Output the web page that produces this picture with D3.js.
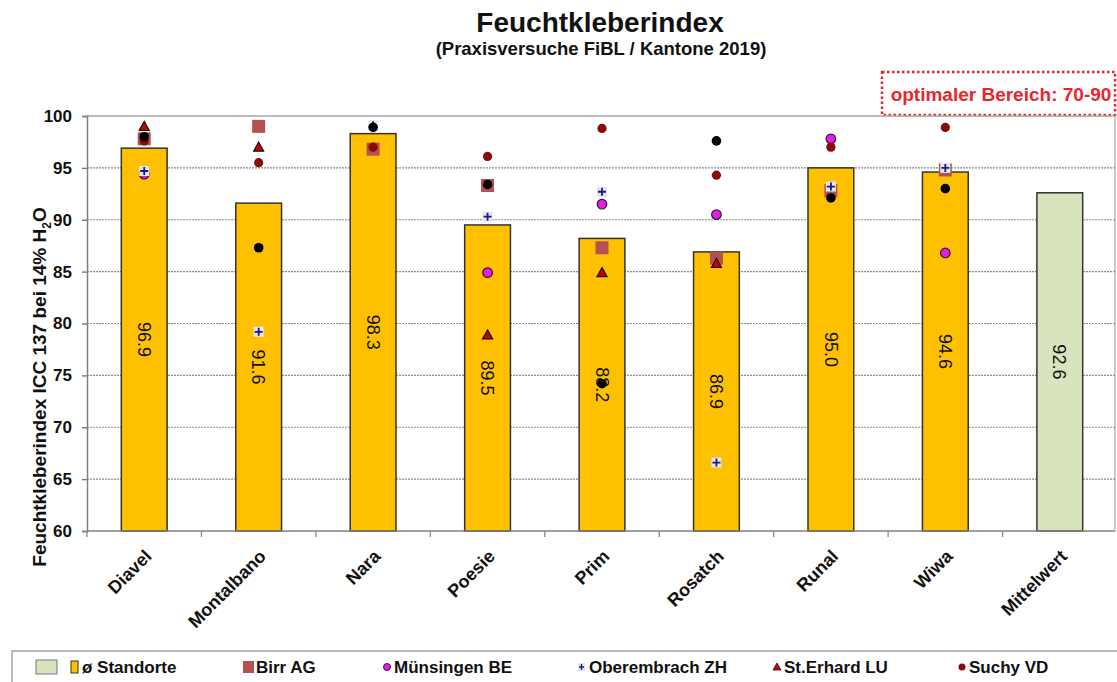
<!DOCTYPE html>
<html><head><meta charset="utf-8">
<script src="https://cdn.jsdelivr.net/npm/d3@7"></script>
<style>body{margin:0;background:#fff}svg{display:block;font-family:"Liberation Sans",Arial,sans-serif}</style>
</head><body><svg id="c" width="1117" height="682"></svg>
<script>
const categories = ["Diavel","Montalbano","Nara","Poesie","Prim","Rosatch","Runal","Wiwa","Mittelwert"];
const meanValues = [96.9, 91.6, 98.3, 89.5, 88.2, 86.9, 95.0, 94.6, 92.6];
const birrAG      = [97.8, 99.0, 96.8, 93.3, 87.3, 86.3, 92.8, 94.8, null];
const muensingen  = [94.4, null, null, 84.9, 91.5, 90.5, 97.8, 86.8, null];
const oberembrach = [94.7, 79.2, 99.1, 90.3, 92.7, 66.6, 93.2, 95.0, null];
const stErhard    = [99.0, 97.0, null, 78.9, 84.9, 85.8, null, null, null];
const suchy       = [97.6, 95.5, 97.0, 96.1, 98.8, 94.3, 97.0, 98.9, null];
const weitere     = [98.0, 87.3, 98.9, 93.4, 74.2, 97.6, 92.1, 93.0, null];
const yTicks = [60, 65, 70, 75, 80, 85, 90, 95, 100];

const svg = d3.select("#c");
const x = d3.scaleBand().domain(categories).range([87, 1117]).padding(0);
const y = d3.scaleLinear().domain([60, 100]).range([531, 116]);
const bw = x.bandwidth() * 0.40;
const cx = c => x(c) + x.bandwidth() / 2;

// Title
svg.append("text").attr("x", 600).attr("y", 32).attr("text-anchor", "middle")
  .attr("font-size", 28).attr("font-weight", "bold").attr("fill", "#111").text("Feuchtkleberindex");
svg.append("text").attr("x", 601).attr("y", 55).attr("text-anchor", "middle")
  .attr("font-size", 18.5).attr("font-weight", "bold").attr("fill", "#111").text("(Praxisversuche FiBL / Kantone 2019)");

// optimal box
svg.append("rect").attr("x", 882).attr("y", 72).attr("width", 233).attr("height", 43)
  .attr("fill", "#fff").attr("stroke", "#e8262c").attr("stroke-width", 2.5).attr("stroke-dasharray", "2.5,2.5");
svg.append("text").attr("x", 1001).attr("y", 101).attr("text-anchor", "middle")
  .attr("font-size", 19).attr("font-weight", "bold").attr("fill", "#e8262c").text("optimaler Bereich: 70-90");

// gridlines
svg.append("g").selectAll("line").data(yTicks.filter(t => t > 60 && t < 100)).join("line")
  .attr("x1", 87).attr("x2", 1115).attr("y1", d => y(d)).attr("y2", d => y(d))
  .attr("stroke", "#8c8c8c").attr("stroke-width", 1.2).attr("stroke-dasharray", "2,1");
// plot frame top & right
svg.append("line").attr("x1", 87).attr("x2", 1115).attr("y1", y(100)).attr("y2", y(100)).attr("stroke", "#a6a6a6").attr("stroke-width", 1.5);
svg.append("line").attr("x1", 1115).attr("x2", 1115).attr("y1", y(100)).attr("y2", y(60)).attr("stroke", "#a6a6a6").attr("stroke-width", 1.2);

// bars
svg.append("g").selectAll("rect").data(categories).join("rect")
  .attr("x", c => cx(c) - bw / 2).attr("width", bw)
  .attr("y", (c, i) => y(meanValues[i])).attr("height", (c, i) => y(60) - y(meanValues[i]))
  .attr("fill", (c, i) => i === categories.length - 1 ? "#d7e4bd" : "#ffc000")
  .attr("stroke", "#333").attr("stroke-width", 1.5);

// bar labels
svg.append("g").selectAll("text").data(categories).join("text")
  .attr("transform", (c, i) => `translate(${cx(c)},${(y(meanValues[i]) + y(60)) / 2}) rotate(90)`)
  .attr("text-anchor", "middle").attr("dy", "0.35em").attr("font-size", 18).attr("fill", "#111")
  .text((c, i) => meanValues[i].toFixed(1));

// axes
const yAxis = d3.axisLeft(y).tickValues(yTicks).tickSize(5).tickPadding(10).tickFormat(d3.format("d"));
const gy = svg.append("g").attr("transform", "translate(87,0)").call(yAxis);
gy.selectAll("text").attr("font-size", 17).attr("font-weight", "bold").attr("fill", "#111").attr("font-family", "Liberation Sans, Arial, sans-serif");
gy.selectAll("line,path").attr("stroke", "#808080").attr("stroke-width", 1.5);

const gx = svg.append("g").attr("transform", `translate(0,${y(60)})`);
gx.append("line").attr("x1", 87).attr("x2", 1115).attr("stroke", "#808080").attr("stroke-width", 1.5);
gx.selectAll("line.t").data(categories).join("line").attr("class", "t")
  .attr("x1", c => x(c)).attr("x2", c => x(c)).attr("y1", 0).attr("y2", 6)
  .attr("stroke", "#808080").attr("stroke-width", 1.2);
gx.selectAll("text").data(categories).join("text")
  .attr("transform", c => `translate(${cx(c) + 4},22) rotate(-45)`)
  .attr("text-anchor", "end").attr("dy", "0.35em")
  .attr("font-size", 18).attr("font-weight", "bold").attr("fill", "#111")
  .text(c => c);

// y title
const yt = svg.append("text").attr("transform", "translate(46,387) rotate(-90)")
  .attr("text-anchor", "middle").attr("font-size", 19).attr("font-weight", "bold").attr("fill", "#111");
yt.append("tspan").text("Feuchtkleberindex ICC 137 bei 14% H");
yt.append("tspan").attr("font-size", 12).attr("dy", 5).text("2");
yt.append("tspan").attr("dy", -5).text("O");

// markers
const pts = (arr) => categories.map((c, i) => ({c, v: arr[i]})).filter(d => d.v != null);
const mk = svg.append("g");
mk.append("g").selectAll("rect").data(pts(birrAG)).join("rect")
  .attr("x", d => cx(d.c) - 6.5).attr("y", d => y(d.v) - 6.5).attr("width", 13).attr("height", 13)
  .attr("fill", "#b5524f");
mk.append("g").selectAll("circle").data(pts(muensingen)).join("circle")
  .attr("cx", d => cx(d.c)).attr("cy", d => y(d.v)).attr("r", 4.8)
  .attr("fill", "#e020e0").attr("stroke", "#3a1040").attr("stroke-width", 1.2);
const pg = mk.append("g").selectAll("g").data(pts(oberembrach)).join("g")
  .attr("transform", d => `translate(${cx(d.c)},${y(d.v)})`);
pg.append("rect").attr("x", -5).attr("y", -5).attr("width", 10).attr("height", 10).attr("fill", "#e4e4f8");
pg.append("path").attr("d", "M-4,0H4M0,-4V4").attr("stroke", "#1a1a6e").attr("stroke-width", 1.8);
mk.append("g").selectAll("path").data(pts(stErhard)).join("path")
  .attr("transform", d => `translate(${cx(d.c)},${y(d.v)})`)
  .attr("d", "M0,-5L5,4H-5Z").attr("fill", "#d00000").attr("stroke", "#111").attr("stroke-width", 1.2);
mk.append("g").selectAll("circle").data(pts(suchy)).join("circle")
  .attr("cx", d => cx(d.c)).attr("cy", d => y(d.v)).attr("r", 4.6).attr("fill", "#8b0a0a");
mk.append("g").selectAll("circle").data(pts(weitere)).join("circle")
  .attr("cx", d => cx(d.c)).attr("cy", d => y(d.v)).attr("r", 4.8).attr("fill", "#000");

// legend
const lg = svg.append("g");
lg.append("rect").attr("x", 12).attr("y", 651).attr("width", 1120).attr("height", 40)
  .attr("fill", "#fff").attr("stroke", "#8c8c8c").attr("stroke-width", 1.2);
const ly = 667;
lg.append("rect").attr("x", 36).attr("y", ly - 7).attr("width", 21).attr("height", 14).attr("fill", "#d7e4bd").attr("stroke", "#777");
lg.append("rect").attr("x", 71).attr("y", ly - 6).attr("width", 7).attr("height", 12).attr("fill", "#ffc000").attr("stroke", "#333");
lg.append("rect").attr("x", 243).attr("y", ly - 6).attr("width", 11).attr("height", 12).attr("fill", "#b5524f");
lg.append("circle").attr("cx", 387).attr("cy", ly).attr("r", 3.5).attr("fill", "#e020e0").attr("stroke", "#3a1040");
lg.append("rect").attr("x", 578).attr("y", ly - 4).attr("width", 7).attr("height", 8).attr("fill", "#e4e4f8");
lg.append("path").attr("d", `M579,${ly}H584M581.5,${ly - 3}V${ly + 3}`).attr("stroke", "#1a1a6e").attr("stroke-width", 1.3);
lg.append("path").attr("d", `M777,${ly - 4}L781,${ly + 3}H773Z`).attr("fill", "#d00000").attr("stroke", "#111").attr("stroke-width", 0.8);
lg.append("circle").attr("cx", 962).attr("cy", ly).attr("r", 3.5).attr("fill", "#8b0a0a");
const legendItems = [["ø Standorte", 82], ["Birr AG", 256], ["Münsingen BE", 394], ["Oberembrach ZH", 589], ["St.Erhard LU", 784], ["Suchy VD", 969]];
lg.selectAll("text").data(legendItems).join("text")
  .attr("x", d => d[1]).attr("y", ly).attr("dy", "0.35em")
  .attr("font-size", 17).attr("font-weight", "bold").attr("fill", "#111").text(d => d[0]);
</script></body></html>
